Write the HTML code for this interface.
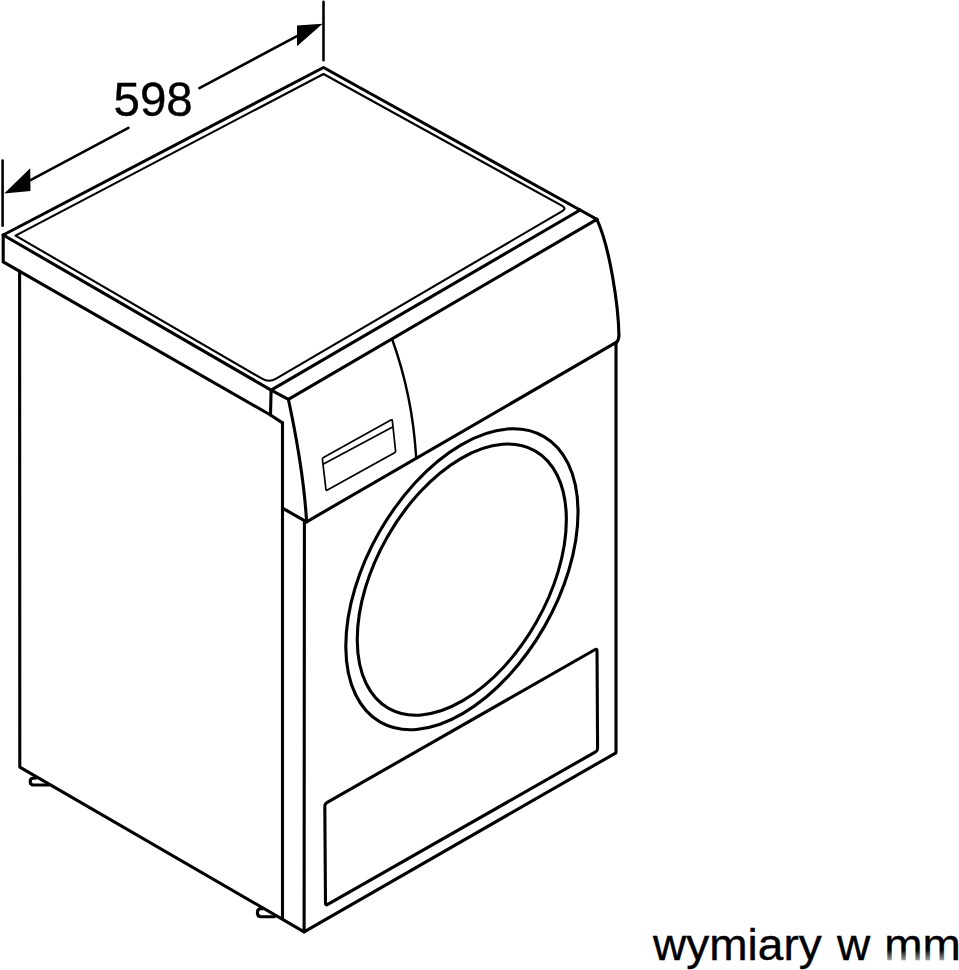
<!DOCTYPE html>
<html><head><meta charset="utf-8">
<style>
html,body{margin:0;padding:0;background:#fff;width:959px;height:970px;overflow:hidden}
svg{display:block}
text{font-family:"Liberation Sans",sans-serif;fill:#000}
</style></head>
<body>
<svg width="959" height="970" viewBox="0 0 959 970">
<g fill="none" stroke="#000" stroke-width="3.1" stroke-linejoin="round" stroke-linecap="round">
<path d="M2.6 160.5V225.8M323.5 1.8V60.3" stroke-width="2.6"/>
<path d="M30.5 180.2L128.4 127.8M199.4 88.2L297 36.1" stroke-width="2.6"/>
<path d="M3.2 235.0L323.5 67.5L580.1 210.0L596.9 219.3"/>
<path d="M3.2 235.0L271.1 390.1L580.1 210.0"/>
<path d="M3.2 235.0V261.9L270.5 415.0L282.5 422.9"/>
<path d="M271.1 390.1L270.5 415.0"/>
<path d="M271.1 390.1L288.4 399.3L596.9 219.3"/>
<path d="M288.4 399.3Q303.6 470.5 306.6 521.8"/>
<path d="M596.9 219.3C609.95 247.48 618.45 306.57 618.9 334.5Q619.1 339.5 616.6 342.2"/>
<path d="M306.6 521.8L616.6 342.2"/>
<path d="M392.6 340.5Q412.4 396 416.1 456.6" stroke-width="2.4"/>
<path d="M282.5 422.9V917.7"/>
<path d="M282.5 508.1L306.6 521.8"/>
<path d="M304.4 522.3L304.1 931.8L616 752.8V342.2"/>
<path d="M19.6 271.1L19.8 767.1L304.1 931.8"/>
<path d="M324.82 806.14Q324.80 803.80 326.83 802.64L594.77 649.77Q597.00 648.50 597.02 651.07L597.59 748.36Q597.60 750.70 595.57 751.86L327.72 904.43Q325.50 905.70 325.48 903.14Z"/>
<path d="M35.5 778.2H33Q30.2 778.2 30.2 781.5Q30.2 785 33.5 785H49"/>
<path d="M263 908.8H261Q257.4 908.8 257.4 912.7Q257.4 916.7 261.3 916.7H274.4"/>
<ellipse cx="461.92" cy="579.21" rx="164.58" ry="95.13" transform="rotate(-60.28 461.92 579.21)"/>
<ellipse cx="461.8" cy="579.6" rx="148.12" ry="85.86" transform="rotate(-60.38 461.8 579.6)"/>
</g>
<g fill="none" stroke="#000" stroke-width="2.1" stroke-linejoin="round">
<path d="M15.50 235.60L323.50 74.00L562.22 205.89Q566.83 208.44 562.28 211.11L276.12 378.65Q269.08 382.78 262.02 378.68Z"/>
<path d="M322.45 459.53Q322.30 458.20 323.47 457.55L390.88 420.03Q392.20 419.30 392.36 420.80L395.56 450.78Q395.70 452.10 394.54 452.74L327.41 490.07Q326.10 490.80 325.93 489.32Z" stroke-width="1.7"/>
<path d="M323 464.2L392.6 426.9" stroke-width="1.7"/>
</g>
<g fill="#000">
<path d="M4.2 193.6L30.2 168.3L30.5 191Z"/>
<path d="M322.6 23.8L297 25.6L297 46.2Z"/>
</g>
<text transform="translate(113.5 116.2) scale(0.97 1)" font-size="49" stroke="#000" stroke-width="0.4">598</text>
<g transform="translate(0 960) scale(1 0.96) translate(0 -960)"><text y="960" font-size="46" stroke="#000" stroke-width="0.4"><tspan x="653.1">wymiary</tspan><tspan x="837">w</tspan><tspan x="884.2">mm</tspan></text></g>
<defs><linearGradient id="fade" x1="0" y1="0" x2="0" y2="1"><stop offset="0" stop-color="#fff" stop-opacity="0"/><stop offset="0.45" stop-color="#fff" stop-opacity="0.35"/><stop offset="1" stop-color="#fff" stop-opacity="0.7"/></linearGradient>
<filter id="bl" x="-20%" y="-50%" width="140%" height="200%"><feGaussianBlur stdDeviation="1.2"/></filter></defs>
<rect x="884" y="950" width="66" height="12" fill="url(#fade)" filter="url(#bl)"/>
</svg>
</body></html>
